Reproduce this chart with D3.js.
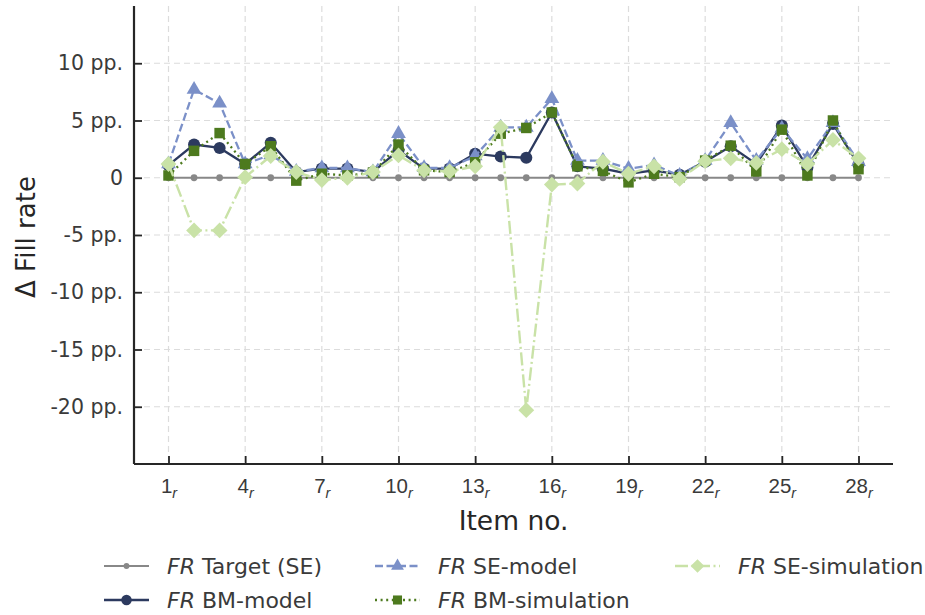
<!DOCTYPE html>
<html>
<head>
<meta charset="utf-8">
<script src="https://cdn.jsdelivr.net/npm/d3@7"></script>
<style>
  html, body { margin: 0; padding: 0; background: #fff; }
  svg { display: block; font-family: "DejaVu Sans", sans-serif; }
</style>
</head>
<body>
<svg id="chart" width="925" height="615"></svg>
<script>
// Item numbers (x axis) and tick positions
const items = d3.range(1, 29);
const xTickValues = [1, 4, 7, 10, 13, 16, 19, 22, 25, 28];
const yTickValues = [-20, -15, -10, -5, 0, 5, 10];

// Δ fill rate per item, in percentage points
const targetSE   = items.map(() => 0);
const bmModel    = [1.1, 2.9, 2.6, 1.2, 3.05, 0.5, 0.8, 0.8, 0.5, 2.4, 0.8, 0.8, 2.1, 1.85, 1.75, 5.7, 1.0, 0.8, 0.35, 0.65, 0.25, 1.4, 2.75, 1.2, 4.55, 0.9, 4.7, 1.15];
const seModel    = [1.2, 7.7, 6.5, 1.2, 2.0, 0.55, 0.85, 0.85, 0.5, 3.85, 0.87, 0.87, 1.9, 4.4, 4.4, 6.9, 1.5, 1.5, 0.8, 1.1, 0.2, 1.5, 4.8, 1.5, 4.3, 1.65, 4.8, 1.4];
const bmSim      = [0.2, 2.35, 3.9, 1.2, 2.75, -0.25, 0.35, 0.2, 0.45, 2.9, 0.65, 0.5, 1.35, 3.85, 4.35, 5.7, 1.0, 0.6, -0.4, 0.35, 0.05, 1.5, 2.8, 0.55, 4.2, 0.2, 5.0, 0.75];
const seSim      = [1.2, -4.6, -4.6, 0.05, 1.9, 0.5, -0.2, 0.0, 0.5, 1.95, 0.65, 0.55, 1.0, 4.4, -20.3, -0.6, -0.5, 1.4, 0.35, 1.0, -0.1, 1.45, 1.7, 1.3, 2.5, 1.2, 3.3, 1.7];

const seriesNames = ["Target (SE)", "BM-model", "SE-model", "BM-simulation", "SE-simulation"];

const svg = d3.select("#chart");
const plot = { left: 134, right: 893, top: 6, bottom: 464 };

const x = d3.scaleLinear().domain([-0.35, 29.35]).range([plot.left, plot.right]);
const y = d3.scaleLinear().domain([-25, 15]).range([plot.bottom, plot.top]);

// series styles
const styles = [
  { values: targetSE, color: "#888888", dash: null,            width: 2.2, marker: "circle",   size: 36 },
  { values: bmModel,  color: "#2c3a5f", dash: null,            width: 2.3, marker: "circle",   size: 115 },
  { values: seModel,  color: "#7b90c8", dash: "8,3.5",         width: 2.3, marker: "triangle", size: 95 },
  { values: bmSim,    color: "#4d7a1e", dash: "2,3.6",         width: 2.3, marker: "square",   size: 110 },
  { values: seSim,    color: "#c9e2a7", dash: "13,3.5,2,3.5",  width: 2.4, marker: "diamond",  size: 125 }
];
const symbolType = {
  circle: d3.symbolCircle, triangle: d3.symbolTriangle,
  square: d3.symbolSquare, diamond: d3.symbolSquare
};
const markerTransform = (m, tx, ty) =>
  `translate(${tx},${ty})${m === "diamond" ? " rotate(45)" : ""}`;

// grid
const grid = svg.append("g");
grid.selectAll("line.gx").data(xTickValues).join("line")
  .attr("x1", d => x(d)).attr("x2", d => x(d))
  .attr("y1", plot.top).attr("y2", plot.bottom)
  .attr("stroke", "#dcdcdc").attr("stroke-width", 1.2).attr("stroke-dasharray", "6,4");
grid.selectAll("line.gy").data(yTickValues).join("line")
  .attr("x1", plot.left).attr("x2", plot.right)
  .attr("y1", d => y(d)).attr("y2", d => y(d))
  .attr("stroke", "#dcdcdc").attr("stroke-width", 1.2).attr("stroke-dasharray", "6,4");

// series
const line = d3.line().x((d, i) => x(items[i])).y(d => y(d));
styles.forEach(s => {
  const g = svg.append("g");
  g.append("path").datum(s.values)
    .attr("d", line).attr("fill", "none")
    .attr("stroke", s.color).attr("stroke-width", s.width)
    .attr("stroke-dasharray", s.dash);
  const sym = d3.symbol().type(symbolType[s.marker]).size(s.size);
  g.selectAll("path.m").data(s.values).join("path")
    .attr("class", "m")
    .attr("d", sym)
    .attr("transform", (d, i) => markerTransform(s.marker, x(items[i]), y(d)))
    .attr("fill", s.color);
});

// axes
const xAxis = d3.axisBottom(x).tickValues(xTickValues).tickSize(-8).tickFormat(() => "");
const gx = svg.append("g").attr("transform", `translate(0,${plot.bottom})`).call(xAxis);
gx.select(".domain").attr("d", `M${plot.left},0H${plot.right}`).attr("stroke", "#262626").attr("stroke-width", 2.2);
gx.selectAll(".tick line").attr("stroke", "#262626").attr("stroke-width", 1.8);
gx.selectAll(".tick text").remove();
gx.selectAll(".tick").each(function(d) {
  const t = d3.select(this).append("text")
    .attr("y", 29).attr("text-anchor", "middle")
    .attr("fill", "#3a3a3a").attr("font-size", 20.5);
  t.append("tspan").text(d);
  t.append("tspan").text("r").attr("font-style", "italic").attr("font-size", 14.5).attr("dy", 5);
});

const yAxis = d3.axisLeft(y).tickValues(yTickValues).tickSize(-8).tickPadding(11)
  .tickFormat(d => d === 0 ? "0" : `${d < 0 ? "-" : ""}${Math.abs(d)} pp.`);
const gy = svg.append("g").attr("transform", `translate(${plot.left},0)`).call(yAxis);
gy.select(".domain").attr("d", `M0,${plot.top}V${plot.bottom}`).attr("stroke", "#262626").attr("stroke-width", 2.2);
gy.selectAll(".tick line").attr("stroke", "#262626").attr("stroke-width", 1.8);
gy.selectAll(".tick text").attr("fill", "#3a3a3a").attr("font-size", 20.5)
  .attr("font-family", "DejaVu Sans, sans-serif");

// axis titles
svg.append("text").attr("x", (plot.left + plot.right) / 2).attr("y", 530)
  .attr("text-anchor", "middle").attr("font-size", 26.5).attr("fill", "#262626").text("Item no.");
svg.append("text").attr("transform", `translate(35,${(plot.top + plot.bottom) / 2 + 2}) rotate(-90)`)
  .attr("text-anchor", "middle").attr("font-size", 26).attr("fill", "#262626").text("Δ Fill rate");

// legend: three columns, filled column by column
const legendPos = [
  { x: 104, y: 566 }, { x: 104, y: 600 },
  { x: 375, y: 566 }, { x: 375, y: 600 },
  { x: 675, y: 566 }
];
styles.forEach((s, i) => {
  const p = legendPos[i];
  const g = svg.append("g").attr("transform", `translate(${p.x},${p.y})`);
  g.append("line").attr("x1", 0).attr("x2", 45).attr("y1", 0).attr("y2", 0)
    .attr("stroke", s.color).attr("stroke-width", s.width).attr("stroke-dasharray", s.dash);
  const sym = d3.symbol().type(symbolType[s.marker]).size(s.size * 0.75);
  g.append("path").attr("d", sym)
    .attr("transform", markerTransform(s.marker, 22.5, 0))
    .attr("fill", s.color);
  const t = g.append("text").attr("x", 63).attr("y", 8).attr("font-size", 22).attr("fill", "#3a3a3a");
  t.append("tspan").attr("font-style", "italic").text("FR");
  t.append("tspan").text(" " + seriesNames[i]);
});
</script>
</body>
</html>
